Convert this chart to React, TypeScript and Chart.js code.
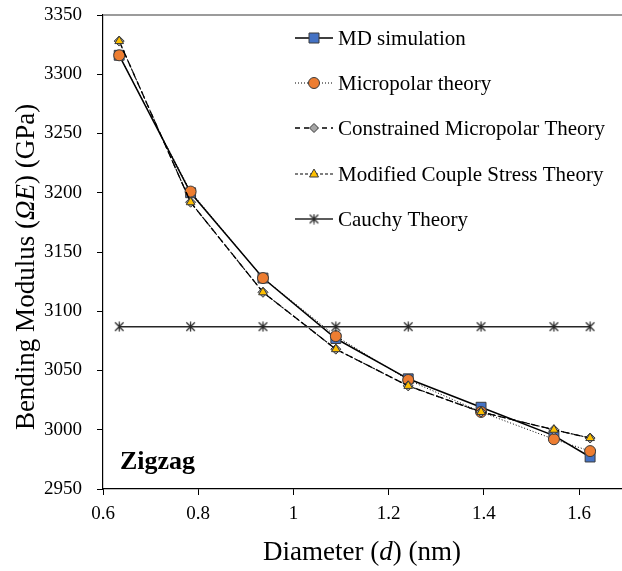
import React, { useEffect, useRef } from "react";
import { Chart, registerables } from "chart.js";

Chart.register(...registerables);

// ---- data ----
const diameters = [0.634, 0.784, 0.936, 1.089, 1.241, 1.394, 1.547, 1.623];
const mdSimulation = [3316, 3200, 3128, 3077, 3043, 3019, 2995, 2977];
const micropolarTheory = [3316, 3201, 3128, 3079, 3042, 3015, 2992, 2982];
const constrainedMicropolar = [3328, 3192, 3116, 3068, 3037, 3015, 3000, 2993];
const modifiedCoupleStress = [3328, 3192, 3116, 3068, 3037, 3015, 3000, 2993];
const cauchyTheory = [3087, 3087, 3087, 3087, 3087, 3087, 3087, 3087];

const seriesNames = [
  "MD simulation",
  "Micropolar theory",
  "Constrained Micropolar Theory",
  "Modified Couple Stress Theory",
  "Cauchy Theory",
];
const xTickValues = [0.6, 0.8, 1, 1.2, 1.4, 1.6];
const yTickValues = [2950, 3000, 3050, 3100, 3150, 3200, 3250, 3300, 3350];
const xTitleParts: [string, boolean][] = [["Diameter (", false], ["d", true], [") (nm)", false]];
const yTitleParts: [string, boolean][] = [["Bending Modulus (", false], ["ΩE", true], [") (GPa)", false]];
const annotationText = "Zigzag";

const SERIF = "Liberation Serif";
Chart.defaults.font.family = SERIF;

function makeStar(size: number, color: string) {
  const c = document.createElement("canvas");
  c.width = size;
  c.height = size;
  const g = c.getContext("2d")!;
  g.strokeStyle = color;
  g.lineWidth = 1.2;
  const m = size / 2;
  const r = size / 2 - 0.5;
  g.beginPath();
  g.moveTo(m, m - r);
  g.lineTo(m, m + r);
  g.moveTo(m - r * 0.85, m - r * 0.85);
  g.lineTo(m + r * 0.85, m + r * 0.85);
  g.moveTo(m + r * 0.85, m - r * 0.85);
  g.lineTo(m - r * 0.85, m + r * 0.85);
  g.stroke();
  return c;
}

function drawRich(ctx: CanvasRenderingContext2D, parts: [string, boolean][], cx: number, cy: number, size: number) {
  let total = 0;
  const widths: number[] = [];
  for (const [t, it] of parts) {
    ctx.font = `${it ? "italic " : ""}${size}px ${SERIF}`;
    const w = ctx.measureText(t).width;
    widths.push(w);
    total += w;
  }
  let x = cx - total / 2;
  ctx.textAlign = "left";
  ctx.textBaseline = "middle";
  ctx.fillStyle = "#000";
  parts.forEach(([t, it], i) => {
    ctx.font = `${it ? "italic " : ""}${size}px ${SERIF}`;
    ctx.fillText(t, x, cy);
    x += widths[i];
  });
}

export default function App() {
  const ref = useRef<HTMLCanvasElement | null>(null);

  useEffect(() => {
    if (!ref.current) return;
    const star = makeStar(11, "#262626");
    const pts = (ys: number[]) => diameters.map((x, i) => ({ x, y: ys[i] }));

    const legendStyles = [
      { dash: [] as number[], width: 1.5, marker: "rect", fill: "#4472C4" },
      { dash: [1, 2], width: 1, marker: "circle", fill: "#ED7D31" },
      { dash: [5, 4], width: 1.3, marker: "diamond", fill: "#A5A5A5" },
      { dash: [3, 2], width: 1.1, marker: "triangle", fill: "#FFC000" },
      { dash: [] as number[], width: 1.5, marker: "star", fill: "#262626" },
    ];

    const overlay = {
      id: "overlay",
      afterDraw(chart: any) {
        const { ctx, chartArea } = chart;
        ctx.save();
        // top border
        ctx.strokeStyle = "#7a7a7a";
        ctx.lineWidth = 1.5;
        ctx.beginPath();
        ctx.moveTo(chartArea.left, chartArea.top);
        ctx.lineTo(chartArea.right, chartArea.top);
        ctx.stroke();

        // axis titles
        drawRich(ctx, xTitleParts, 362, 553, 27);
        ctx.save();
        ctx.translate(27, 267);
        ctx.rotate(-Math.PI / 2);
        drawRich(ctx, yTitleParts, 0, 0, 27);
        ctx.restore();

        // annotation
        ctx.font = `bold 26px ${SERIF}`;
        ctx.textAlign = "left";
        ctx.textBaseline = "middle";
        ctx.fillStyle = "#000";
        ctx.fillText(annotationText, 120, 462);

        // legend
        const rowY = [38, 83, 128, 174, 219];
        seriesNames.forEach((name, i) => {
          const s = legendStyles[i];
          const y = rowY[i];
          ctx.save();
          ctx.strokeStyle = i === 4 ? "#262626" : "#000";
          ctx.lineWidth = s.width;
          ctx.setLineDash(s.dash);
          ctx.beginPath();
          ctx.moveTo(295, y);
          ctx.lineTo(333, y);
          ctx.stroke();
          ctx.setLineDash([]);
          ctx.fillStyle = s.fill;
          ctx.strokeStyle = "#3a3a3a";
          ctx.lineWidth = 1;
          const cx = 314;
          ctx.beginPath();
          if (s.marker === "rect") {
            ctx.rect(cx - 5, y - 5, 10, 10);
            ctx.fill();
            ctx.stroke();
          } else if (s.marker === "circle") {
            ctx.arc(cx, y, 5.5, 0, Math.PI * 2);
            ctx.fill();
            ctx.stroke();
          } else if (s.marker === "diamond") {
            ctx.moveTo(cx, y - 4.5);
            ctx.lineTo(cx + 4.5, y);
            ctx.lineTo(cx, y + 4.5);
            ctx.lineTo(cx - 4.5, y);
            ctx.closePath();
            ctx.fill();
            ctx.stroke();
          } else if (s.marker === "triangle") {
            ctx.moveTo(cx, y - 5);
            ctx.lineTo(cx + 4.5, y + 3);
            ctx.lineTo(cx - 4.5, y + 3);
            ctx.closePath();
            ctx.fill();
            ctx.stroke();
          } else {
            ctx.drawImage(star, cx - star.width / 2, y - star.height / 2);
          }
          ctx.restore();
          ctx.font = `21px ${SERIF}`;
          ctx.fillStyle = "#000";
          ctx.textAlign = "left";
          ctx.textBaseline = "middle";
          ctx.fillText(name, 338, y + 1);
        });
        ctx.restore();
      },
    };

    const chart = new Chart(ref.current, {
      type: "line",
      data: {
        datasets: [
          {
            label: seriesNames[0],
            data: pts(mdSimulation),
            borderColor: "#000",
            borderWidth: 1.5,
            pointStyle: "rect",
            pointRadius: 7,
            pointBackgroundColor: "#4472C4",
            pointBorderColor: "#3a3a3a",
            pointBorderWidth: 1,
            order: 5,
          },
          {
            label: seriesNames[1],
            data: pts(micropolarTheory),
            borderColor: "#000",
            borderWidth: 1,
            borderDash: [1, 2],
            pointStyle: "circle",
            pointRadius: 5.5,
            pointBackgroundColor: "#ED7D31",
            pointBorderColor: "#3a3a3a",
            pointBorderWidth: 1,
            order: 4,
          },
          {
            label: seriesNames[2],
            data: pts(constrainedMicropolar),
            borderColor: "#000",
            borderWidth: 1.3,
            borderDash: [7, 4],
            pointStyle: "rectRot",
            pointRadius: 5,
            pointBackgroundColor: "#A5A5A5",
            pointBorderColor: "#3a3a3a",
            pointBorderWidth: 1,
            order: 3,
          },
          {
            label: seriesNames[3],
            data: pts(modifiedCoupleStress),
            borderColor: "#000",
            borderWidth: 1.1,
            borderDash: [3, 2],
            pointStyle: "triangle",
            pointRadius: 5,
            pointBackgroundColor: "#FFC000",
            pointBorderColor: "#3a3a3a",
            pointBorderWidth: 1,
            order: 2,
          },
          {
            label: seriesNames[4],
            data: pts(cauchyTheory),
            borderColor: "#262626",
            borderWidth: 1.5,
            pointStyle: star as any,
            pointRadius: 6,
            order: 1,
          },
        ],
      },
      options: {
        animation: false,
        responsive: false,
        devicePixelRatio: 1,
        layout: { autoPadding: false, padding: { top: 15, left: 0, right: 0, bottom: 0 } },
        plugins: {
          legend: { display: false },
          tooltip: { enabled: false },
        },
        elements: { line: { tension: 0, fill: false } },
        scales: {
          x: {
            type: "linear",
            min: 0.6,
            max: 1.69,
            afterBuildTicks: (scale: any) => {
              scale.ticks = xTickValues.map((v) => ({ value: v }));
            },
            afterFit: (scale: any) => {
              scale.height = 82;
              scale.paddingRight = 0;
              scale.paddingLeft = 0;
              scale.paddingTop = 0;
              scale.paddingBottom = 0;
            },
            ticks: {
              color: "#000",
              font: { family: SERIF, size: 19 },
              padding: 8,
              maxRotation: 0,
              callback: (v: any) => String(Math.round(Number(v) * 10) / 10),
            },
            grid: { display: true, drawOnChartArea: false, drawTicks: true, tickLength: 6, color: "#000" },
            border: { display: true, color: "#000", width: 1.2 },
          },
          y: {
            type: "linear",
            min: 2950,
            max: 3350,
            afterBuildTicks: (scale: any) => {
              scale.ticks = yTickValues.map((v) => ({ value: v }));
            },
            afterFit: (scale: any) => {
              scale.width = 103;
              scale.paddingTop = 0;
              scale.paddingBottom = 0;
              scale.paddingLeft = 0;
              scale.paddingRight = 0;
            },
            ticks: {
              color: "#000",
              font: { family: SERIF, size: 19 },
              padding: 15,
              callback: (v: any) => String(v),
            },
            grid: { display: true, drawOnChartArea: false, drawTicks: true, tickLength: 6, color: "#000" },
            border: { display: true, color: "#000", width: 1.2 },
          },
        },
      },
      plugins: [overlay],
    });
    return () => chart.destroy();
  }, []);

  return (
    <div style={{ position: "absolute", left: 0, top: 0, width: 622, height: 571, background: "#fff" }}>
      <canvas ref={ref} width={622} height={571} style={{ display: "block" }} />
    </div>
  );
}
